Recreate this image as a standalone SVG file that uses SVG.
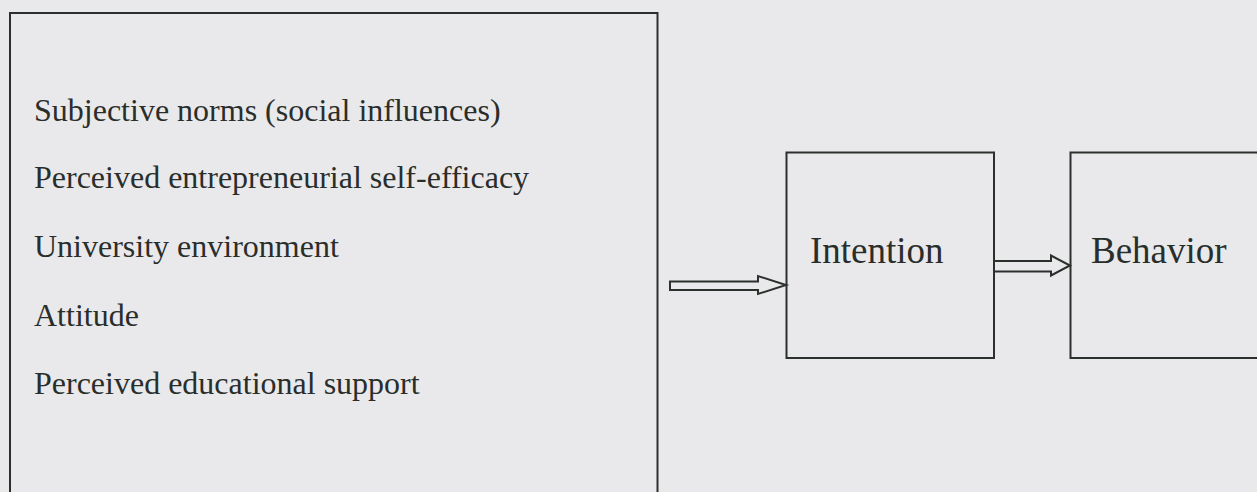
<svg xmlns="http://www.w3.org/2000/svg" width="1257" height="492" viewBox="0 0 1257 492">
  <style>
    .box { fill: none; stroke: #2b302c; stroke-width: 2; }
    .arrow { fill: none; stroke: #2b302c; stroke-width: 2; stroke-linejoin: miter; }
    .item { font-family: "Liberation Serif", "Times New Roman", serif; font-size: 32px; fill: #2a2e2b; }
    .label { font-family: "Liberation Serif", "Times New Roman", serif; font-size: 37px; fill: #2a2e2b; }
  </style>
  <rect x="0" y="0" width="1257" height="492" fill="#e9e9eb"/>

  <!-- factor list box (open at the bottom edge) -->
  <g id="factors">
    <path class="box" d="M10,500 V13 H657.5 V500"/>
    <text class="item" x="34" y="121">Subjective norms (social influences)</text>
    <text class="item" x="34" y="188">Perceived entrepreneurial self-efficacy</text>
    <text class="item" x="34" y="257">University environment</text>
    <text class="item" x="34" y="326">Attitude</text>
    <text class="item" x="34" y="394">Perceived educational support</text>
  </g>

  <g id="intention">
    <rect class="box" x="786.5" y="152.5" width="207.5" height="205.5"/>
    <text class="label" x="810" y="263">Intention</text>
  </g>

  <g id="behavior">
    <path class="box" d="M1260,152.5 H1070.5 V358 H1260"/>
    <text class="label" x="1091" y="263">Behavior</text>
  </g>

  <!-- hollow block arrows -->
  <g id="connectors">
    <path class="arrow" d="M670,281.5 H758 V276 L786,285 L758,294 V290 H670 Z"/>
    <path class="arrow" d="M994,261 H1051 V255.5 L1070,265.5 L1051,275.5 V271.5 H994"/>
  </g>
</svg>
